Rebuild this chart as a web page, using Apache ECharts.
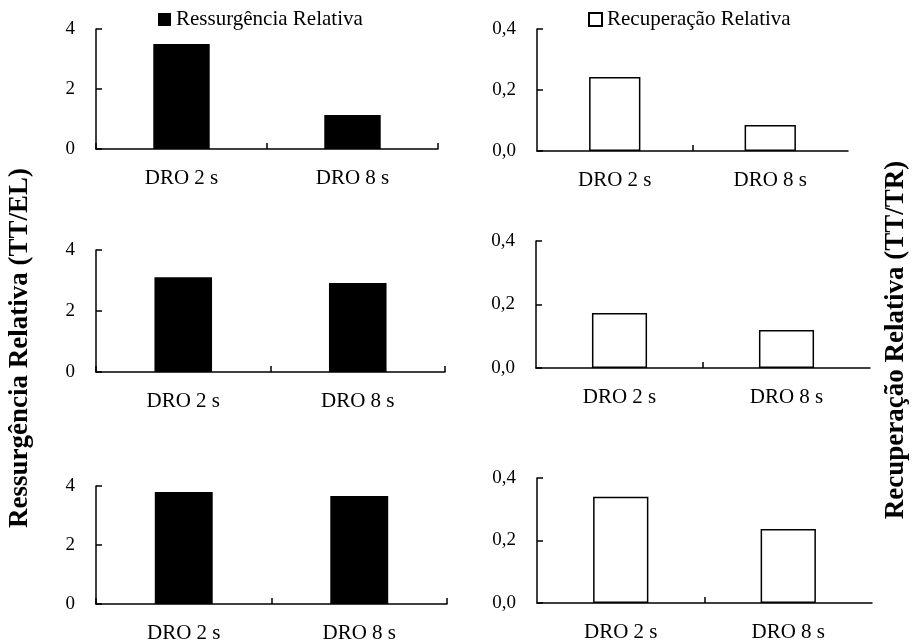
<!DOCTYPE html>
<html>
<head>
<meta charset="utf-8">
<script src="https://cdn.jsdelivr.net/npm/echarts@6/dist/echarts.min.js"></script>
<style>
  html, body { margin: 0; padding: 0; background: #fff; }
  #chart_box { width: 913px; height: 644px; }
</style>
</head>
<body>
<div id="chart_box"></div>
<script>
let categories = ['DRO 2 s', 'DRO 8 s'];

// left column: Ressurgência Relativa (TT/EL)
let ressurgencia1 = [3.5, 1.13];
let ressurgencia2 = [3.11, 2.92];
let ressurgencia3 = [3.8, 3.66];

// right column: Recuperação Relativa (TT/TR)
let recuperacao1 = [0.243, 0.085];
let recuperacao2 = [0.173, 0.12];
let recuperacao3 = [0.34, 0.237];

let leftTicks = [0, 2, 4];
let rightTicks = [0, 0.2, 0.4];

let serifFont = '"Liberation Serif", "Times New Roman", serif';

let grids = [
    {left: 96, top: 29, width: 342, height: 120},
    {left: 537, top: 29, width: 311, height: 122},
    {left: 96, top: 250, width: 349, height: 122},
    {left: 536, top: 241, width: 334, height: 127},
    {left: 96, top: 486, width: 351, height: 118},
    {left: 537, top: 478, width: 335, height: 125}
];

let panels = [
    {name: 'Ressurgência Relativa', data: ressurgencia1, ticks: leftTicks},
    {name: 'Recuperação Relativa', data: recuperacao1, ticks: rightTicks},
    {name: 'Ressurgência Relativa', data: ressurgencia2, ticks: leftTicks},
    {name: 'Recuperação Relativa', data: recuperacao2, ticks: rightTicks},
    {name: 'Ressurgência Relativa', data: ressurgencia3, ticks: leftTicks},
    {name: 'Recuperação Relativa', data: recuperacao3, ticks: rightTicks}
];

let blackLine = {color: '#000', width: 1.5};

let myChart = echarts.init(document.getElementById('chart_box'), null, {renderer: 'canvas'});

let myOption = {
    animation: false,
    backgroundColor: '#fff',
    legend: [
        {
            left: 153, top: 4,
            data: ['Ressurgência Relativa'],
            icon: 'rect', itemWidth: 13, itemHeight: 13,
            textStyle: {fontFamily: serifFont, fontSize: 21, color: '#000'}
        },
        {
            left: 583, top: 4,
            data: ['Recuperação Relativa'],
            icon: 'rect', itemWidth: 13, itemHeight: 13,
            textStyle: {fontFamily: serifFont, fontSize: 21, color: '#000'}
        }
    ],
    grid: grids,
    xAxis: [],
    yAxis: [],
    series: [],
    graphic: [
        {
            type: 'text', x: 20, y: 348, rotation: Math.PI / 2,
            style: {
                text: 'Ressurgência Relativa (TT/EL)',
                font: 'bold 27px ' + serifFont, fill: '#000',
                textAlign: 'center', textVerticalAlign: 'middle'
            }
        },
        {
            type: 'text', x: 896, y: 340, rotation: Math.PI / 2,
            style: {
                text: 'Recuperação Relativa (TT/TR)',
                font: 'bold 27px ' + serifFont, fill: '#000',
                textAlign: 'center', textVerticalAlign: 'middle'
            }
        }
    ]
};

panels.forEach(function (p, i) {
    let isRight = i % 2 === 1;
    let t = p.ticks;
    myOption.xAxis.push({
        type: 'category',
        gridIndex: i,
        data: categories,
        axisLine: {lineStyle: blackLine},
        // right column only has the middle tick, drawn by the helper axis below
        axisTick: {show: !isRight, inside: true, length: 6, lineStyle: blackLine},
        axisLabel: {margin: 19, fontFamily: serifFont, fontSize: 21, color: '#000'}
    });
    myOption.yAxis.push({
        type: 'value',
        gridIndex: i,
        min: t[0],
        max: t[t.length - 1],
        interval: t[1] - t[0],
        splitLine: {show: false},
        axisLine: {show: true, lineStyle: blackLine},
        axisTick: {show: true, inside: true, length: 6, lineStyle: blackLine},
        axisLabel: {
            margin: 21,
            fontFamily: serifFont, fontSize: 19, color: '#000',
            formatter: function (v) {
                return isRight ? v.toFixed(1).replace('.', ',') : String(v);
            }
        }
    });
    myOption.series.push({
        name: p.name,
        type: 'bar',
        xAxisIndex: i,
        yAxisIndex: i,
        data: p.data,
        barWidth: '33%',
        itemStyle: isRight
            ? {color: '#fff', borderColor: '#000', borderWidth: 1.5}
            : {color: '#000'}
    });
});

// helper axes: single tick between the two categories in the right column
[1, 3, 5].forEach(function (g) {
    myOption.xAxis.push({
        type: 'value',
        gridIndex: g,
        position: 'bottom',
        min: 0,
        max: categories.length,
        interval: 1,
        axisLine: {show: false},
        axisLabel: {show: false},
        splitLine: {show: false},
        axisTick: {show: true, inside: true, length: 6, lineStyle: blackLine, customValues: [1]}
    });
});

myChart.setOption(myOption);
</script>
</body>
</html>
